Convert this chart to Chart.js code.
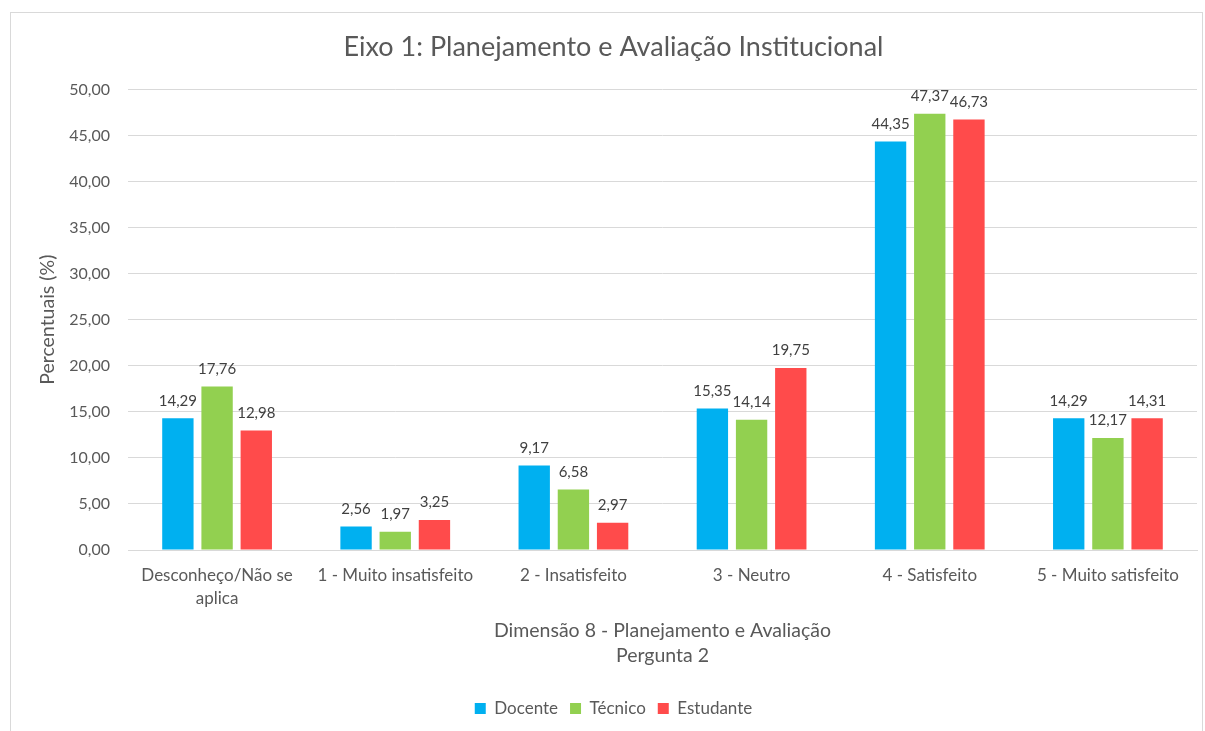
<!DOCTYPE html>
<html lang="pt">
<head>
  <meta charset="UTF-8" />
  <title>Eixo 1: Planejamento e Avaliação Institucional</title>
  <script src="https://cdn.jsdelivr.net/npm/chart.js"></script>
  <style>
    html, body { margin: 0; padding: 0; background: #fff; }
    .frame {
      position: absolute; left: 10px; top: 12px; width: 1193px; height: 740px;
      border: 1px solid #d9d9d9; box-sizing: border-box;
    }
    .wrap { position: absolute; left: 0; top: 0; width: 1205px; height: 731px; }
  </style>
</head>
<body>
  <div class="frame"></div>
  <div class="wrap"><canvas id="barChart"></canvas></div>

  <script>
    const categories = [["Desconheço/Não se", "aplica"], "1 - Muito insatisfeito", "2 - Insatisfeito", "3 - Neutro", "4 - Satisfeito", "5 - Muito satisfeito"];
    const docente = [14.29, 2.56, 9.17, 15.35, 44.35, 14.29];
    const tecnico = [17.76, 1.97, 6.58, 14.14, 47.37, 12.17];
    const estudante = [12.98, 3.25, 2.97, 19.75, 46.73, 14.31];
    const yTicks = [0, 5, 10, 15, 20, 25, 30, 35, 40, 45, 50];

    const fmt = v => v.toFixed(2).replace(".", ",");
    const FONT = "Lato, 'Liberation Sans', sans-serif";
    const GREY = "#595959";

    // value labels above each bar
    const valueLabels = {
      id: "valueLabels",
      afterDatasetsDraw(chart) {
        const ctx = chart.ctx;
        ctx.save();
        ctx.font = "15px " + FONT;
        ctx.fillStyle = "#404040";
        ctx.textAlign = "center";
        ctx.textBaseline = "bottom";
        chart.data.datasets.forEach((ds, i) => {
          chart.getDatasetMeta(i).data.forEach((bar, j) => {
            ctx.fillText(fmt(ds.data[j]), bar.x, bar.y - 10);
          });
        });
        ctx.restore();
      }
    };

    new Chart(document.getElementById("barChart"), {
      type: "bar",
      data: {
        labels: categories,
        datasets: [
          { label: "Docente", data: docente, backgroundColor: "#00b0f0" },
          { label: "Técnico", data: tecnico, backgroundColor: "#92d050" },
          { label: "Estudante", data: estudante, backgroundColor: "#ff4b4b" }
        ]
      },
      options: {
        responsive: true,
        maintainAspectRatio: false,
        animation: false,
        categoryPercentage: 0.66,
        barPercentage: 0.8,
        layout: { padding: { left: 30, right: 8, top: 12, bottom: 4 } },
        plugins: {
          title: {
            display: true,
            text: "Eixo 1: Planejamento e Avaliação Institucional",
            color: GREY,
            font: { family: FONT, size: 27, weight: "normal" },
            padding: { top: 19, bottom: 26 }
          },
          legend: {
            position: "bottom",
            labels: {
              color: GREY,
              font: { family: FONT, size: 17 },
              boxWidth: 11, boxHeight: 11, padding: 12
            }
          },
          tooltip: { enabled: false }
        },
        scales: {
          x: {
            afterFit: axis => { axis.height = 138; },
            grid: { display: false, drawTicks: false },
            border: { color: "#d9d9d9" },
            ticks: { color: GREY, font: { family: FONT, size: 17, lineHeight: 1.35 }, maxRotation: 0, padding: 14 },
            title: {
              display: true,
              text: ["Dimensão 8 - Planejamento e Avaliação", "Pergunta 2"],
              color: GREY,
              font: { family: FONT, size: 19.5, lineHeight: 1.29 },
              padding: { top: 0, bottom: 20 }
            }
          },
          y: {
            min: 0,
            max: 50,
            afterFit: axis => { axis.width = 98; },
            afterBuildTicks: axis => { axis.ticks = yTicks.map(v => ({ value: v })); },
            grid: { color: "#d9d9d9", drawTicks: false },
            border: { display: false },
            ticks: { color: GREY, font: { family: FONT, size: 16 }, padding: 18, callback: v => fmt(v) },
            title: {
              display: true,
              text: "Percentuais (%)",
              color: GREY,
              font: { family: FONT, size: 19.5 },
              padding: { top: 6, bottom: 0 }
            }
          }
        }
      },
      plugins: [valueLabels]
    });
  </script>
</body>
</html>
